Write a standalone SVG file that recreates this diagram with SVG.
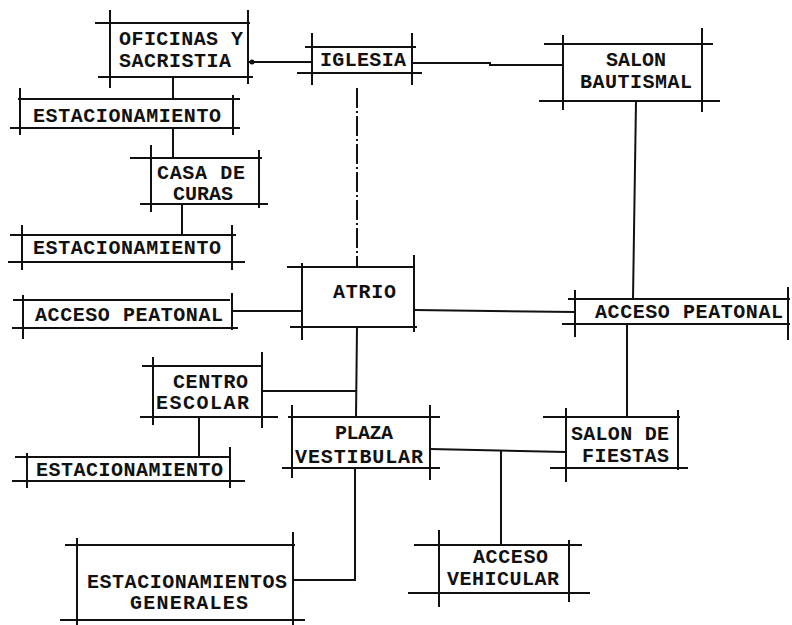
<svg xmlns="http://www.w3.org/2000/svg" width="792" height="625" viewBox="0 0 792 625">
<style>
.b{fill:none;stroke:#111;stroke-width:2;stroke-linecap:butt}
.c{fill:none;stroke:#111;stroke-width:2}
.d{fill:none;stroke:#111;stroke-width:2;stroke-dasharray:20,3,2,3}
text{font-family:"Liberation Mono","Courier New",monospace;font-weight:bold;font-size:20px;fill:#111}
.m{text-anchor:middle}
</style>
<rect width="792" height="625" fill="#fff"/>
<g id="connectors">
<line class="c" x1="248" y1="62" x2="312" y2="62"/>
<circle cx="252" cy="62" r="2.5" fill="#111"/>
<polyline class="c" points="412,63 490,63 490,65 563,65"/>
<line class="c" x1="173" y1="77" x2="173" y2="99"/>
<line class="c" x1="173" y1="128" x2="173" y2="158"/>
<line class="c" x1="182" y1="204" x2="182" y2="235"/>
<line class="d" x1="357" y1="88" x2="357" y2="267"/>
<line class="c" x1="232" y1="311" x2="302" y2="311"/>
<line class="c" x1="414" y1="310" x2="575" y2="312"/>
<line class="c" x1="636" y1="101" x2="633" y2="299"/>
<line class="c" x1="627" y1="324" x2="627" y2="417"/>
<line class="c" x1="357" y1="327" x2="356" y2="417"/>
<line class="c" x1="262" y1="391" x2="356" y2="391"/>
<line class="c" x1="199" y1="417" x2="199" y2="457"/>
<line class="c" x1="430" y1="449" x2="566" y2="452"/>
<line class="c" x1="501" y1="450" x2="501" y2="545"/>
<polyline class="c" points="355,468 355,580 293,580"/>
</g>
<g id="oficinas">
<path class="b" d="M95 23H250M98 77H253M110 10V88M248 10V84"/>
<text x="119" y="45" textLength="124">OFICINAS Y</text>
<text x="119" y="67" textLength="112">SACRISTIA</text>
</g>
<g id="iglesia">
<path class="b" d="M305 47H416M297 73H422M312 33V85M412 33V85"/>
<text x="320" y="66" textLength="86">IGLESIA</text>
</g>
<g id="salon-bautismal">
<path class="b" d="M544 44H713M539 101H720M563 35V110M702 28V112"/>
<text class="m" x="636" y="66">SALON</text>
<text class="m" x="636" y="88" textLength="112">BAUTISMAL</text>
</g>
<g id="estacionamiento1">
<path class="b" d="M18 99H240M10 128H240M20 88V135M233 95V135"/>
<text x="33" y="122" textLength="188">ESTACIONAMIENTO</text>
</g>
<g id="casa-curas">
<path class="b" d="M130 158H262M140 204H268M151 145V212M259 150V208"/>
<text x="157" y="179" textLength="88">CASA DE</text>
<text x="173" y="200" textLength="60">CURAS</text>
</g>
<g id="estacionamiento2">
<path class="b" d="M10 235H236M8 262H245M22 225V270M232 225V270"/>
<text x="33" y="254" textLength="188">ESTACIONAMIENTO</text>
</g>
<g id="acceso-peatonal-izq">
<path class="b" d="M13 300H230M12 328H238M23 295V339M232 293V330"/>
<text x="35" y="321" textLength="188">ACCESO PEATONAL</text>
</g>
<g id="atrio">
<path class="b" d="M287 267H414M290 327H417M302 263V340M414 255V332"/>
<text x="333" y="298" textLength="63">ATRIO</text>
</g>
<g id="acceso-peatonal-der">
<path class="b" d="M568 299H790M562 324H790M575 290V337M788 287V340"/>
<text x="595" y="318" textLength="188">ACCESO PEATONAL</text>
</g>
<g id="centro-escolar">
<path class="b" d="M142 366H262M140 417H278M153 357V425M262 352V428"/>
<text x="173" y="388" textLength="75">CENTRO</text>
<text x="156" y="409" textLength="93">ESCOLAR</text>
</g>
<g id="plaza-vestibular">
<path class="b" d="M288 417H440M282 468H440M292 405V478M430 405V480"/>
<text x="335" y="439" textLength="58">PLAZA</text>
<text x="295" y="463" textLength="128">VESTIBULAR</text>
</g>
<g id="salon-fiestas">
<path class="b" d="M543 417H680M550 468H688M566 408V482M678 410V470"/>
<text x="571" y="440" textLength="98">SALON DE</text>
<text x="582" y="462" textLength="87">FIESTAS</text>
</g>
<g id="estacionamiento3">
<path class="b" d="M15 457H230M12 481H245M27 453V488M230 447V488"/>
<text x="36" y="476" textLength="187">ESTACIONAMIENTO</text>
</g>
<g id="estacionamientos-generales">
<path class="b" d="M65 545H295M60 620H305M77 538V625M293 532V625"/>
<text x="87" y="588" textLength="200">ESTACIONAMIENTOS</text>
<text x="130" y="609" textLength="118">GENERALES</text>
</g>
<g id="acceso-vehicular">
<path class="b" d="M414 545H582M408 593H590M439 530V607M569 540V602"/>
<text x="473" y="563" textLength="75">ACCESO</text>
<text x="447" y="585" textLength="112">VEHICULAR</text>
</g>
</svg>
